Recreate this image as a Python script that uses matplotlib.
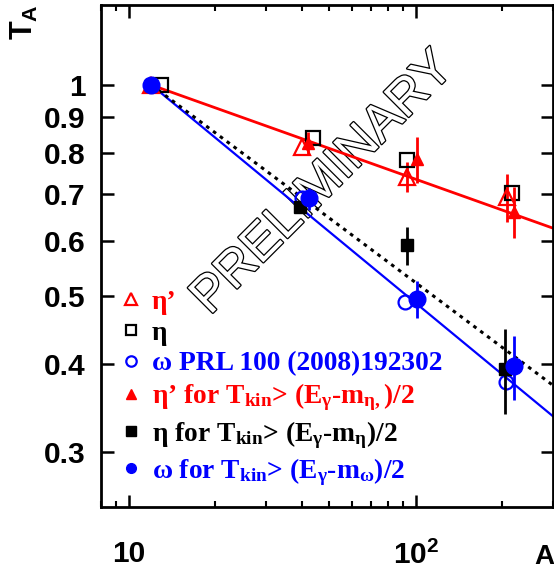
import matplotlib
matplotlib.use('Agg')
import matplotlib.pyplot as plt
import matplotlib.ticker as mticker
import matplotlib.patheffects as pe
from matplotlib.lines import Line2D

# transparency ratio T_A vs mass number A
etap_A = [12, 40, 93, 208]
etap_T = [1.0, 0.817, 0.740, 0.692]
etap_err = [0.0, 0.0, 0.036, 0.054]

etap_cut_A = [12, 42, 101, 220]
etap_cut_T = [1.0, 0.826, 0.784, 0.660]
etap_cut_err = [0.0, 0.03, 0.06, 0.055]

eta_A = [13, 44, 93, 216]
eta_T = [1.0, 0.839, 0.782, 0.701]

eta_cut_A = [12, 39.5, 93.5, 205]
eta_cut_T = [1.0, 0.671, 0.591, 0.394]
eta_cut_err = [0.0, 0.0, 0.037, 0.055]

omega_A = [12, 40, 92, 206]
omega_T = [1.0, 0.69, 0.491, 0.377]

omega_cut_A = [12, 42.6, 101, 220]
omega_cut_T = [1.0, 0.689, 0.496, 0.397]
omega_cut_err = [0.0, 0.025, 0.03, 0.042]

# power-law fits (straight lines in log-log), end points
fit_A = [12, 300]
fit_etap = [1.0, 0.625]
fit_omega = [1.0, 0.337]
fit_eta = [1.0, 0.373]

ytick_vals = [0.3, 0.4, 0.5, 0.6, 0.7, 0.8, 0.9, 1.0]
ytick_labels = ['0.3', '0.4', '0.5', '0.6', '0.7', '0.8', '0.9', '1']
xtick_vals = [10, 100]
xtick_labels = ['10', r'$\mathsf{10^{2}}$']

plt.rcParams['mathtext.fontset'] = 'custom'
plt.rcParams['mathtext.rm'] = 'Liberation Serif:bold'
plt.rcParams['mathtext.it'] = 'Liberation Serif:bold'
plt.rcParams['mathtext.bf'] = 'Liberation Serif:bold'
plt.rcParams['mathtext.sf'] = 'Liberation Sans:bold'

RED = '#ff0000'
BLUE = '#0000ff'

fig = plt.figure(figsize=(5.54, 5.73), dpi=100)
ax = fig.add_axes([0.182, 0.115, 0.816, 0.876])
ax.set_xscale('log')
ax.set_yscale('log')
ax.set_xlim(8, 300)
ax.set_ylim(0.25, 1.3)

ax.plot(fit_A, fit_etap, color=RED, lw=2.0, zorder=2)
ax.plot(fit_A, fit_omega, color=BLUE, lw=1.6, zorder=2)
ax.plot(fit_A, fit_eta, color='black', lw=2.2, ls=(0, (1.2, 1.6)), zorder=2)

ms_open = 11
ax.errorbar(etap_A, etap_T, yerr=etap_err, fmt='^', ms=ms_open, mfc='none',
            mec=RED, mew=1.6, ecolor=RED, elinewidth=2, capsize=0, zorder=3)
ax.plot(eta_A, eta_T, 's', ms=ms_open - 1, mfc='none', mec='black', mew=1.6, zorder=3)
ax.plot(omega_A, omega_T, 'o', ms=ms_open - 1, mfc='none', mec=BLUE, mew=1.6, zorder=3)
ax.errorbar(etap_cut_A, etap_cut_T, yerr=etap_cut_err, fmt='^', ms=9, color=RED,
            elinewidth=2, capsize=0, zorder=4)
ax.errorbar(eta_cut_A, eta_cut_T, yerr=eta_cut_err, fmt='s', ms=9, color='black',
            elinewidth=2, capsize=0, zorder=4)
ax.errorbar(omega_cut_A, omega_cut_T, yerr=omega_cut_err, fmt='o', ms=12, color=BLUE,
            elinewidth=2, capsize=0, zorder=5)

ax.yaxis.set_major_locator(mticker.FixedLocator(ytick_vals))
ax.yaxis.set_major_formatter(mticker.FixedFormatter(ytick_labels))
ax.yaxis.set_minor_locator(mticker.NullLocator())
ax.xaxis.set_major_locator(mticker.FixedLocator(xtick_vals))
ax.xaxis.set_major_formatter(mticker.FixedFormatter(xtick_labels))
ax.xaxis.set_minor_locator(mticker.LogLocator(base=10, subs=range(2, 10)))
ax.xaxis.set_minor_formatter(mticker.NullFormatter())

ax.tick_params(which='both', direction='in', top=True, right=True)
ax.tick_params(which='major', length=9, width=1.8)
ax.tick_params(which='minor', length=4.5, width=1.5)
ax.tick_params(axis='x', which='major', pad=24)
ax.tick_params(axis='y', which='major', pad=11)
for lab in ax.get_xticklabels() + ax.get_yticklabels():
    lab.set_fontfamily('Liberation Sans')
    lab.set_fontweight('bold')
    lab.set_fontsize(21.5)
for sp in ax.spines.values():
    sp.set_linewidth(2.0)

fig.text(0.045, 0.992, r'$\mathsf{T_A}$', rotation=90, fontsize=22,
         ha='center', va='top')
fig.text(1.0, 0.005, 'A', fontfamily='Liberation Sans', fontweight='bold',
         fontsize=20, ha='right', va='bottom')

ax.text(0.492, 0.645, 'PRELIMINARY', transform=ax.transAxes, rotation=45,
        fontsize=37, fontfamily='Liberation Sans', color='white',
        ha='center', va='center', zorder=1.5,
        path_effects=[pe.withStroke(linewidth=1.8, foreground='black')])

handles = [
    Line2D([], [], ls='none', marker='^', ms=8, mfc='none', mec=RED, mew=1.6),
    Line2D([], [], ls='none', marker='s', ms=7.5, mfc='none', mec='black', mew=1.6),
    Line2D([], [], ls='none', marker='o', ms=7.5, mfc='none', mec=BLUE, mew=1.6),
    Line2D([], [], ls='none', marker='^', ms=7, color=RED),
    Line2D([], [], ls='none', marker='s', ms=7, color='black'),
    Line2D([], [], ls='none', marker='o', ms=7, color=BLUE),
]
labels = [
    'η’',
    'η',
    'ω PRL 100 (2008)192302',
    r'η’ for T$_{\rm kin}$> (E$_\gamma$-m$_{\eta,}$)/2',
    r'η for T$_{\rm kin}$> (E$_\gamma$-m$_{\eta}$)/2',
    r'ω for T$_{\rm kin}$> (E$_\gamma$-m$_{\omega}$)/2',
]
leg = ax.legend(handles, labels, loc='lower left', bbox_to_anchor=(0.0, 0.0),
                frameon=False, handlelength=0.8, handletextpad=0.35,
                labelspacing=0.2, borderaxespad=0.3,
                labelcolor=[RED, 'black', BLUE, RED, 'black', BLUE],
                prop={'family': 'Liberation Serif', 'weight': 'bold', 'size': 19.8})

fig.savefig('out.png', dpi=100)
